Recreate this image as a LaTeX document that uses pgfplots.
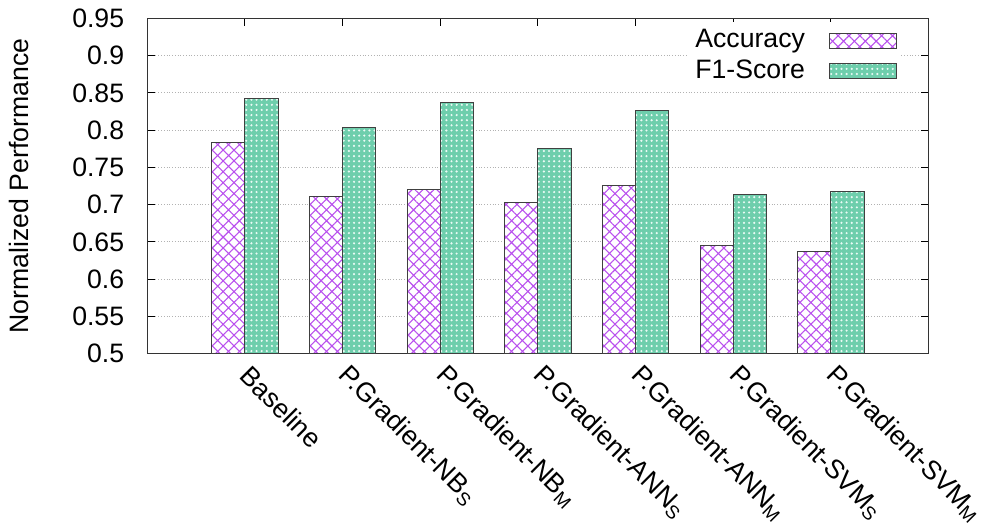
\documentclass[border=0pt]{standalone}
\usepackage{fontspec}
\setmainfont{Liberation Sans}
\usepackage{pgfplots}
\pgfplotsset{compat=1.18}
\usetikzlibrary{patterns.meta}
\definecolor{accv}{RGB}{185,80,238}
\definecolor{f1fill}{RGB}{110,206,172}
\definecolor{f1dot}{RGB}{235,250,245}
\pgfplotstableread{
x acc f1
0 0.784 0.842
1 0.711 0.804
2 0.721 0.837
3 0.703 0.775
4 0.726 0.827
5 0.645 0.714
6 0.637 0.718
}\datatable
\newcommand{\ff}{\fontsize{13.5}{16}\selectfont}
\begin{document}
\ff
\begin{tikzpicture}
\begin{axis}[
  width=396pt, height=170pt, scale only axis,
  ybar=0pt, bar width=0.34,
  xmin=-1, xmax=7, ymin=0.5, ymax=0.95,
  ytick={0.5,0.55,...,0.951},
  /pgf/number format/assume math mode=true,
  yticklabel style={/pgf/number format/fixed, /pgf/number format/precision=2, font=\ff, xshift=-7pt},
  ylabel={Normalized Performance},
  ylabel style={font=\ff, yshift=13pt},
  xtick={0,...,6},
  xticklabels={Baseline, P.Gradient-NB\textsubscript{S}, P.Gradient-NB\textsubscript{M}, P.Gradient-ANN\textsubscript{S}, P.Gradient-ANN\textsubscript{M}, P.Gradient-SVM\textsubscript{S}, P.Gradient-SVM\textsubscript{M}},
  xticklabel style={rotate=-45, anchor=west, font=\ff, inner sep=0pt, xshift=6pt, yshift=-6pt},
  tick align=inside, major tick length=4pt,
  tick style={black, line width=0.5pt},
  ymajorgrids, grid style={densely dotted, gray!60, line width=0.5pt},
  axis line style={black!80, line width=0.6pt},
  legend plot pos=right,
  legend cell align=right,
  legend style={at={(rel axis cs:1,1)}, anchor=north east, xshift=-14pt, yshift=-1.5pt, draw=none, fill=white, font=\ff, row sep=0pt, column sep=10pt, inner sep=2pt},
  legend image code/.code={\draw[#1] (0pt,-3.7pt) rectangle (34pt,3.7pt);},
]
\addplot[draw=black!75, line width=0.5pt, fill=white, postaction={pattern={Hatch[angle=45, distance=3.9pt, line width=0.55pt]}, pattern color=accv}] table[x=x, y=acc] {\datatable};
\addlegendentry{Accuracy}
\addplot[draw=black!75, line width=0.5pt, fill=f1fill, postaction={pattern={Dots[distance=2.6pt, radius=0.6pt]}, pattern color=f1dot}] table[x=x, y=f1] {\datatable};
\addlegendentry{F1-Score}
\end{axis}
\end{tikzpicture}
\end{document}
